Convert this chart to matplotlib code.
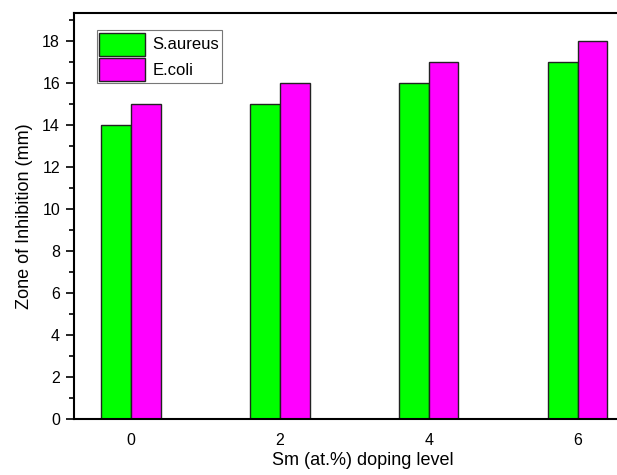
import matplotlib
matplotlib.use("Agg")
import matplotlib.pyplot as plt
import numpy as np
from matplotlib.ticker import MultipleLocator

plt.rcParams['font.family'] = ['Liberation Sans', 'DejaVu Sans']

doping = [0, 2, 4, 6]
s_aureus = [14, 15, 16, 17]
e_coli = [15, 16, 17, 18]
series_names = ["S.aureus", "E.coli"]

fig = plt.figure(figsize=(6.17, 4.75), dpi=100)
ax = fig.add_axes([74/617, 56/475, 578/617, 406/475])

x = np.array(doping, dtype=float)
w = 0.4
ax.bar(x - w/2, s_aureus, width=w, color="#00ff00", edgecolor="#222222", linewidth=1.0, label=series_names[0])
ax.bar(x + w/2, e_coli, width=w, color="#ff00ff", edgecolor="#222222", linewidth=1.0, label=series_names[1])

ax.set_xlim(-0.765, 7.0)
ax.set_ylim(0, 19.33)
ax.set_xticks(doping)
ax.set_xticklabels([str(d) for d in doping])
ax.yaxis.set_major_locator(MultipleLocator(2))
ax.yaxis.set_minor_locator(MultipleLocator(1))
ax.tick_params(axis='x', length=0, pad=10, labelsize=11.5)
ax.tick_params(axis='y', which='major', direction='out', length=6, width=1.2, labelsize=11.5, pad=4)
ax.tick_params(axis='y', which='minor', direction='out', length=3.5, width=1.2)

for s in ['left', 'bottom', 'top']:
    ax.spines[s].set_linewidth(1.5)
ax.spines['right'].set_visible(False)

ax.set_ylabel("Zone of Inhibition (mm)", fontsize=13, labelpad=7)
ax.set_xlabel("Sm (at.%) doping level", fontsize=13, labelpad=3)

leg = ax.legend(loc='upper left', bbox_to_anchor=(0.039, 0.958), fontsize=12,
                frameon=True, fancybox=False, edgecolor="#555555",
                handlelength=2.75, handleheight=1.75, handletextpad=0.45,
                borderpad=0.15, labelspacing=0.12, borderaxespad=0.0)
leg.get_frame().set_linewidth(0.8)

fig.savefig("out.png", dpi=100)
